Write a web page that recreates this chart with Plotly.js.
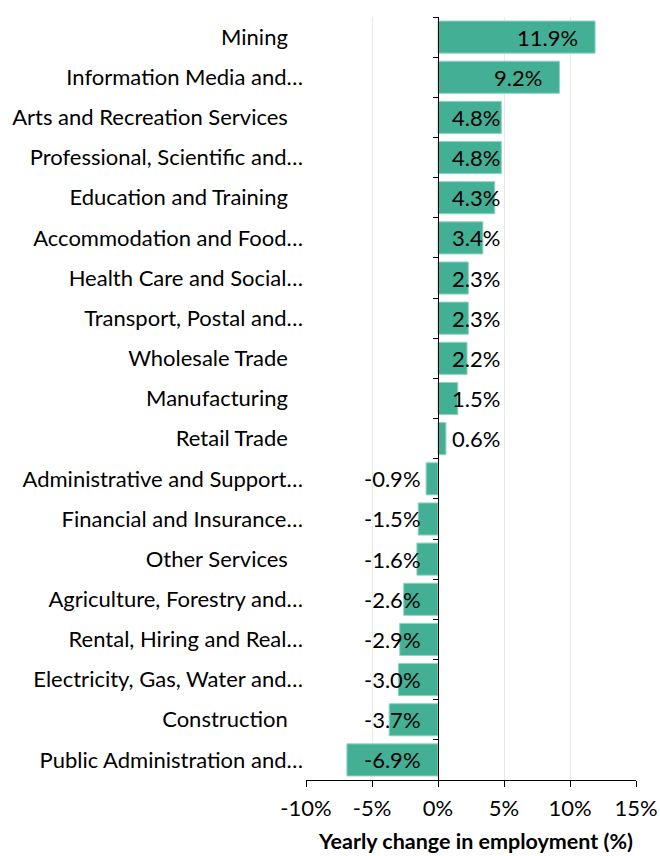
<!DOCTYPE html>
<html>
<head>
<meta charset="utf-8">
<script src="https://cdn.plot.ly/plotly-3.0.1.min.js"></script>
<style>html,body{margin:0;padding:0;background:#fff;}#chart{width:660px;height:856px;}</style>
</head>
<body>
<div id="chart"></div>
<script>
const industries = [
  "Mining",
  "Information Media and…",
  "Arts and Recreation Services",
  "Professional, Scientific and…",
  "Education and Training",
  "Accommodation and Food…",
  "Health Care and Social…",
  "Transport, Postal and…",
  "Wholesale Trade",
  "Manufacturing",
  "Retail Trade",
  "Administrative and Support…",
  "Financial and Insurance…",
  "Other Services",
  "Agriculture, Forestry and…",
  "Rental, Hiring and Real…",
  "Electricity, Gas, Water and…",
  "Construction",
  "Public Administration and…"
];
const yearlyChange = [11.9, 9.2, 4.8, 4.8, 4.3, 3.4, 2.3, 2.3, 2.2, 1.5, 0.6, -0.9, -1.5, -1.6, -2.6, -2.9, -3.0, -3.7, -6.9];
const xTickVals = [-10, -5, 0, 5, 10, 15];
const xTickText = ["-10%", "-5%", "0%", "5%", "10%", "15%"];
const xTitle = "Yearly change in employment (%)";

const FONT = "Lato, 'Open Sans', sans-serif";
const FS = 22;
const tickText = industries.map(l => l.endsWith("…") ? l : l + "\u2002\u2009\u200A");

const traces = [
  {
    type: "bar", orientation: "h",
    x: yearlyChange, y: industries,
    marker: {color: "#43b095", line: {color: "#8fd6c1", width: 1}},
    width: 0.8,
    hoverinfo: "skip",
    yaxis: "y"
  },
  {
    type: "bar", orientation: "h",
    x: yearlyChange.map(() => 0), y: industries,
    marker: {color: "rgba(0,0,0,0)"},
    hoverinfo: "skip", showlegend: false,
    yaxis: "y2"
  }
];

const annotations = yearlyChange.map((v, i) => ({
  x: v >= 0 ? Math.max(v, 4.8) : 0,
  y: industries[i],
  xref: "x", yref: "y",
  text: v.toFixed(1) + "%",
  showarrow: false,
  xanchor: "right",
  yanchor: "middle",
  xshift: v >= 0 ? (v > 5 ? -15 : 1) : -15,
  font: {family: FONT, size: FS, color: "#000"}
}));
annotations.push({
  xref: "paper", yref: "paper",
  x: 0.03, y: -0.080,
  xanchor: "left", yanchor: "middle",
  text: "<b>" + xTitle + "</b>",
  showarrow: false,
  font: {family: FONT, size: 21.5, color: "#000"}
});

const layout = {
  width: 660, height: 856,
  margin: {l: 306, r: 24, t: 17, b: 76},
  paper_bgcolor: "#fff", plot_bgcolor: "#fff",
  showlegend: false,
  barmode: "overlay",
  font: {family: FONT, size: FS, color: "#000"},
  xaxis: {
    range: [-10, 15],
    tickvals: xTickVals, ticktext: xTickText,
    showgrid: true, gridcolor: "#ebebe3", gridwidth: 1,
    zeroline: false,
    showline: true, linecolor: "#000", linewidth: 1,
    ticks: "outside", ticklen: 6, tickcolor: "#000",
    ticklabelstandoff: 3,
    tickfont: {family: FONT, size: FS, color: "#000"},
    fixedrange: true
  },
  yaxis: {
    type: "category",
    categoryorder: "array", categoryarray: industries,
    tickvals: industries, ticktext: tickText,
    autorange: "reversed",
    showline: false, showgrid: false, zeroline: false,
    ticks: "",
    ticklabelstandoff: 2,
    tickfont: {family: FONT, size: FS, color: "#000"},
    fixedrange: true
  },
  yaxis2: {
    type: "category",
    overlaying: "y",
    matches: "y",
    anchor: "free",
    position: 0.4,
    side: "left",
    showticklabels: false,
    showline: true, linecolor: "#000", linewidth: 1,
    showgrid: false, zeroline: false,
    ticks: "outside", ticklen: 5, tickcolor: "#000",
    tickson: "boundaries",
    fixedrange: true
  },
  annotations: annotations
};

Plotly.newPlot("chart", traces, layout, {displayModeBar: false, staticPlot: true});
</script>
</body>
</html>
